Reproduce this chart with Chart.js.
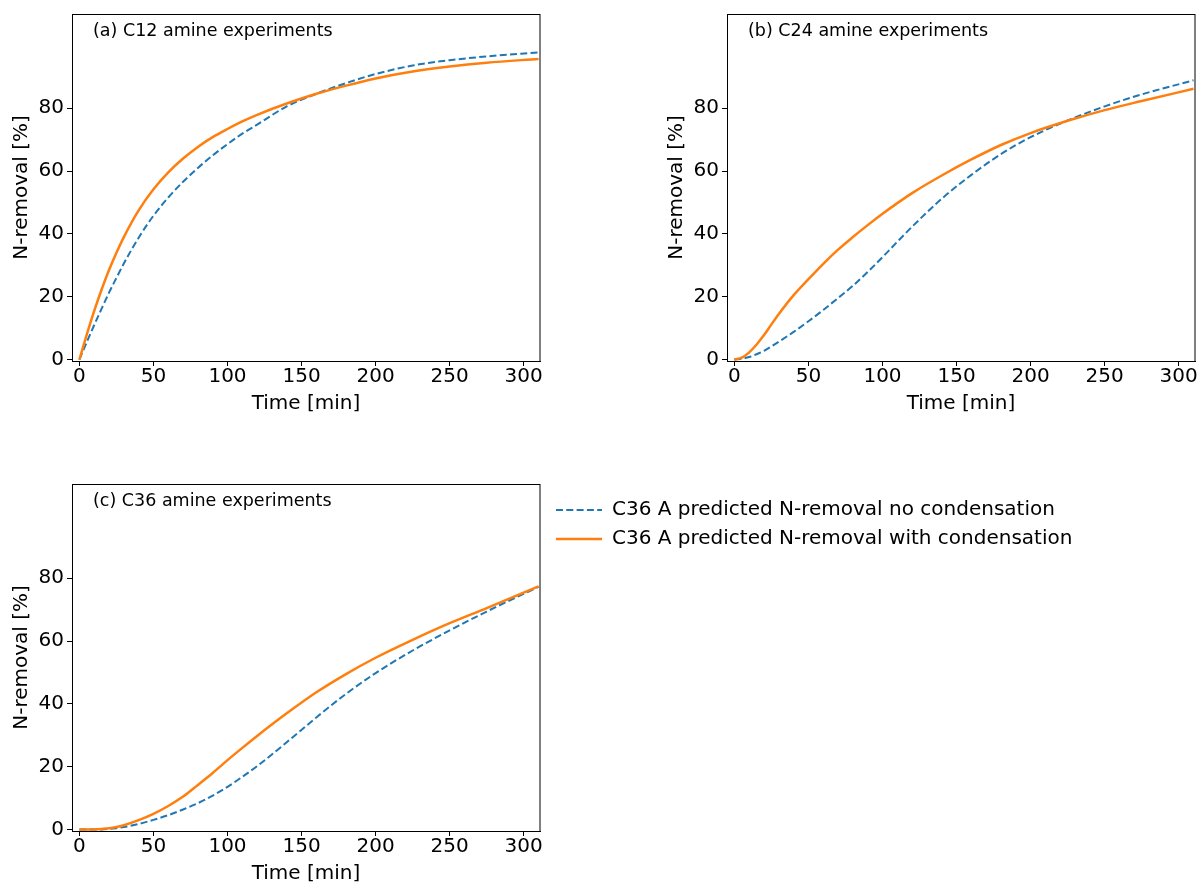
<!DOCTYPE html>
<html>
<head>
<meta charset="utf-8">
<script src="https://cdn.jsdelivr.net/npm/chart.js@4/dist/chart.umd.min.js"></script>
<style>
  html, body { margin: 0; padding: 0; background: #fff; width: 1200px; height: 883px; overflow: hidden; }
  canvas { position: absolute; }
</style>
</head>
<body>
<canvas id="ca" width="560" height="420" style="left:0px;top:0px"></canvas>
<canvas id="cb" width="545" height="420" style="left:655px;top:0px"></canvas>
<canvas id="cc" width="560" height="420" style="left:0px;top:470px"></canvas>
<canvas id="cl" width="660" height="200" style="left:540px;top:480px"></canvas>
<script>
// ---------------- data ----------------
const times = [0, 5, 10, 15, 20, 25, 30, 40, 50, 60, 70, 80, 90, 100, 110, 120, 140, 160, 180, 200, 225, 250, 275, 310];

// (a) C12
const c12NoCond   = [0, 5.6, 11, 16.2, 21.3, 26, 30.6, 38.8, 45.8, 51.6, 56.6, 61, 65, 68.6, 71.9, 74.8, 80.6, 84.6, 88, 90.9, 93.6, 95.3, 96.5, 97.8];
const c12WithCond = [0, 8, 15.5, 22.3, 28.5, 34, 39, 47.5, 54.2, 59.6, 64, 67.7, 70.8, 73.4, 75.8, 77.9, 81.5, 84.6, 87.2, 89.5, 91.7, 93.3, 94.5, 95.7];

// (b) C24
const c24NoCond   = [0, 0.3, 0.8, 1.7, 2.8, 4.2, 5.7, 8.8, 12.2, 15.8, 19.6, 23.5, 27.9, 32.6, 37.5, 42.3, 51.2, 58.8, 65.4, 70.8, 76.1, 80.6, 84.4, 88.9];
const c24WithCond = [0, 0.6, 2.3, 4.8, 7.8, 11.2, 14.5, 20.5, 25.6, 30.5, 35, 39, 42.8, 46.4, 49.8, 53, 58.6, 63.7, 68.3, 72.1, 76, 79.4, 82.3, 86.2];

// (c) C36
const c36NoCond   = [0, 0, 0, 0.05, 0.2, 0.45, 0.8, 1.8, 3.1, 4.6, 6.4, 8.4, 10.8, 13.6, 16.8, 20.2, 27.8, 35.7, 43.2, 49.8, 57, 63.4, 69.4, 77.3];
const c36WithCond = [0, 0, 0.05, 0.2, 0.4, 0.8, 1.4, 3, 5, 7.5, 10.5, 14.2, 18, 22.1, 26, 29.8, 37, 43.7, 49.5, 54.7, 60.4, 65.7, 70.5, 77.4];

const panelTitles = ['(a) C12 amine experiments', '(b) C24 amine experiments', '(c) C36 amine experiments'];
const seriesLabels = ['C36 A predicted N-removal no condensation', 'C36 A predicted N-removal with condensation'];
const xTicks = [0, 50, 100, 150, 200, 250, 300];
const yTicks = [0, 20, 40, 60, 80];
const xTitle = 'Time [min]';
const yTitle = 'N-removal [%]';
// -------------------------------------------------------------------------

const FONT = 'DejaVu Sans';
Chart.defaults.font.family = FONT;
Chart.defaults.color = '#000';
Chart.defaults.animation = false;

const BLUE = '#1f77b4';
const ORANGE = '#ff7f0e';

function pts(xs, ys) { return xs.map((x, i) => ({ x: x, y: ys[i] })); }

const framePlugin = {
  id: 'frame',
  afterDraw(chart) {
    const { ctx, chartArea: a } = chart;
    ctx.save();
    ctx.strokeStyle = '#000';
    ctx.lineWidth = 1;
    ctx.strokeRect(a.left + 0.5, a.top + 0.5, a.right - a.left - 0.5, a.bottom - a.top);
    ctx.restore();
  }
};

function labelPlugin(text) {
  return {
    id: 'panelLabel',
    afterDraw(chart) {
      const { ctx, chartArea: a } = chart;
      ctx.save();
      ctx.font = '17.5px "' + FONT + '"';
      ctx.fillStyle = '#000';
      ctx.textAlign = 'left';
      ctx.textBaseline = 'middle';
      ctx.fillText(text, a.left + 21, a.top + 17);
      ctx.restore();
    }
  };
}

function makePanel(id, title, noCond, withCond, canvasWidth) {
  new Chart(document.getElementById(id), {
    type: 'line',
    data: {
      datasets: [
        { label: seriesLabels[0], data: pts(times, noCond), borderColor: BLUE, borderWidth: 2,
          borderDash: [7, 3.3], pointRadius: 0, fill: false, cubicInterpolationMode: 'monotone', order: 1 },
        { label: seriesLabels[1], data: pts(times, withCond), borderColor: ORANGE, borderWidth: 2.5,
          pointRadius: 0, fill: false, cubicInterpolationMode: 'monotone', order: 0 }
      ]
    },
    options: {
      responsive: false,
      devicePixelRatio: 1,
      layout: { padding: { top: 14, right: canvasWidth - 540, left: 0, bottom: 0 } },
      plugins: { legend: { display: false }, tooltip: { enabled: false } },
      scales: {
        x: {
          type: 'linear', min: -5, max: 311,
          afterBuildTicks: s => { s.ticks = xTicks.map(v => ({ value: v })); },
          afterFit: s => { s.height = 59; },
          grid: { drawOnChartArea: false, drawTicks: true, tickLength: 5, color: '#000' },
          border: { display: true, color: '#000', width: 1 },
          ticks: { font: { size: 20, lineHeight: 1 }, color: '#000', padding: 1, maxRotation: 0, autoSkip: false },
          title: { display: true, text: xTitle, font: { size: 20 }, color: '#000', padding: { top: 0, bottom: 4 } }
        },
        y: {
          type: 'linear', min: -0.45, max: 110,
          afterBuildTicks: s => { s.ticks = yTicks.map(v => ({ value: v })); },
          afterFit: s => { s.width = 72; },
          grid: { drawOnChartArea: false, drawTicks: true, tickLength: 5, color: '#000' },
          border: { display: true, color: '#000', width: 1 },
          ticks: { font: { size: 20, lineHeight: 1 }, color: '#000', padding: 3, autoSkip: false },
          title: { display: true, text: yTitle, font: { size: 20 }, color: '#000', padding: { top: 10, bottom: 0 } }
        }
      }
    },
    plugins: [framePlugin, labelPlugin(title)]
  });
}

makePanel('ca', panelTitles[0], c12NoCond, c12WithCond, 560);
makePanel('cb', panelTitles[1], c24NoCond, c24WithCond, 545);
makePanel('cc', panelTitles[2], c36NoCond, c36WithCond, 560);

// legend (figure-level, placed beside panel c)
new Chart(document.getElementById('cl'), {
  type: 'line',
  data: {
    datasets: [
      { label: seriesLabels[0], data: [], borderColor: BLUE, borderWidth: 2, borderDash: [7, 3.3], backgroundColor: BLUE },
      { label: seriesLabels[1], data: [], borderColor: ORANGE, borderWidth: 2.5, backgroundColor: ORANGE }
    ]
  },
  options: {
    responsive: false,
    devicePixelRatio: 1,
    layout: { padding: { top: 11, left: 7, right: 0, bottom: 0 } },
    scales: { x: { display: false }, y: { display: false } },
    plugins: {
      tooltip: { enabled: false },
      legend: {
        display: true, position: 'top', align: 'start',
        labels: {
          usePointStyle: true, pointStyle: 'line', pointStyleWidth: 46, padding: 9,
          font: { size: 20 }, color: '#000',
          generateLabels: chart => {
            const items = Chart.defaults.plugins.legend.labels.generateLabels(chart);
            items.forEach(it => {
              const ds = chart.data.datasets[it.datasetIndex];
              it.lineDash = ds.borderDash || [];
              it.strokeStyle = ds.borderColor;
              it.fillStyle = ds.borderColor;
              it.lineWidth = ds.borderWidth;
              it.pointStyle = 'line';
            });
            return items;
          }
        }
      }
    }
  }
});
</script>
</body>
</html>
